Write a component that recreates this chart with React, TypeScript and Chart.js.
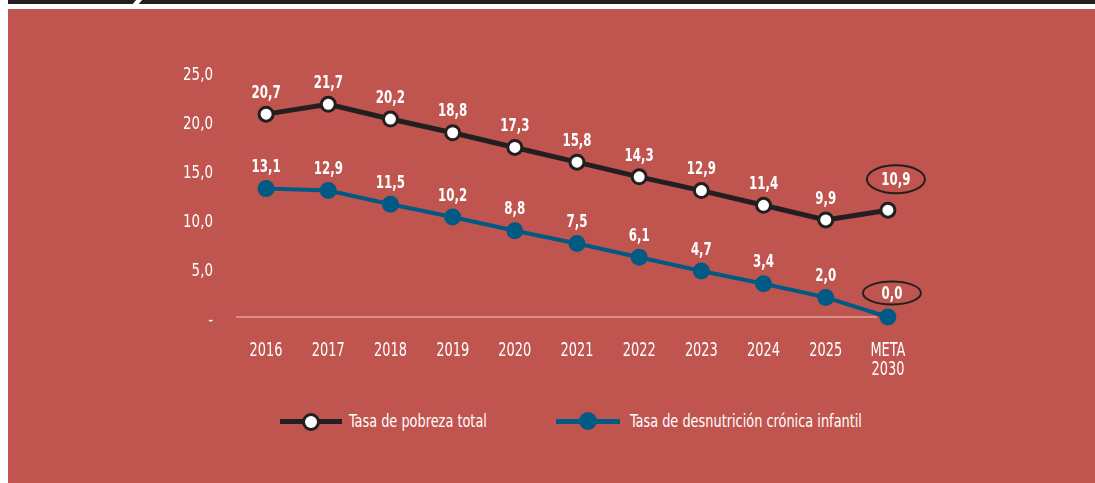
import { useEffect, useRef } from "react";
import { Chart, registerables } from "chart.js";

Chart.register(...registerables);

const categories: (string | string[])[] = [
  "2016", "2017", "2018", "2019", "2020", "2021", "2022", "2023", "2024", "2025", ["META", "2030"],
];
const pobrezaTotal = [20.7, 21.7, 20.2, 18.8, 17.3, 15.8, 14.3, 12.9, 11.4, 9.9, 10.9];
const desnutricionCronica = [13.1, 12.9, 11.5, 10.2, 8.8, 7.5, 6.1, 4.7, 3.4, 2.0, 0.0];
const yTickValues = [0, 5, 10, 15, 20, 25];
const seriesNames = ["Tasa de pobreza total", "Tasa de desnutrición crónica infantil"];

const FONT = "'DejaVu Sans Condensed', 'Liberation Sans Narrow', sans-serif";
const RED = "#c0544f";
const DARK = "#231f20";
const BLUE = "#005a84";

const fmt = (v: number) => v.toFixed(1).replace(".", ",");

// horizontal squeeze per font size to mimic a condensed typeface
const squeezeFor = (font: string) => {
  if (/(^|\s)20px/.test(font)) return 0.72;
  if (/(^|\s)18px/.test(font)) return 0.73;
  if (/(^|\s)17px/.test(font)) return 0.88;
  return 1;
};

const squeezePlugin = {
  id: "squeeze",
  beforeDraw(chart: any) {
    const ctx = chart.ctx;
    if (ctx.__origFillText) return;
    const orig = ctx.fillText;
    ctx.__origFillText = orig;
    ctx.fillText = function (text: string, x: number, y: number, mw?: number) {
      const sx = squeezeFor(this.font);
      if (sx === 1) return mw === undefined ? orig.call(this, text, x, y) : orig.call(this, text, x, y, mw);
      this.save();
      this.translate(x, y);
      this.scale(sx, 1);
      if (mw === undefined) orig.call(this, text, 0, 0);
      else orig.call(this, text, 0, 0, mw / sx);
      this.restore();
    };
  },
  afterDraw(chart: any) {
    const ctx = chart.ctx;
    if (ctx.__origFillText) {
      ctx.fillText = ctx.__origFillText;
      delete ctx.__origFillText;
    }
  },
};

const decorPlugin = {
  id: "decor",
  beforeDatasetsDraw(chart: any) {
    const { ctx, chartArea } = chart;
    const xs = chart.scales.x;
    const endX = xs.getPixelForValue(categories.length - 1) - 11;
    ctx.save();
    ctx.strokeStyle = "#dc8f8a";
    ctx.lineWidth = 2;
    ctx.beginPath();
    ctx.moveTo(chartArea.left + 1, chartArea.bottom);
    ctx.lineTo(endX, chartArea.bottom);
    ctx.stroke();
    ctx.restore();
  },
  afterDatasetsDraw(chart: any) {
    const { ctx } = chart;
    chart.data.datasets.forEach((ds: any, di: number) => {
      const meta = chart.getDatasetMeta(di);
      meta.data.forEach((pt: any, i: number) => {
        const last = i === ds.data.length - 1;
        let dx = 0;
        let dy = -22;
        if (last) {
          dx = di === 0 ? 8 : 4;
          dy = di === 0 ? -31 : -24;
        }
        const tx = pt.x + dx;
        const ty = pt.y + dy;
        ctx.save();
        ctx.fillStyle = "#ffffff";
        ctx.textAlign = "center";
        ctx.textBaseline = "middle";
        ctx.font = `bold 18px ${FONT}`;
        ctx.fillText(fmt(ds.data[i]), tx, ty + 1);
        ctx.restore();
        if (last) {
          ctx.save();
          ctx.strokeStyle = DARK;
          ctx.lineWidth = 2;
          ctx.beginPath();
          ctx.ellipse(tx, ty, 29, di === 0 ? 14 : 11.5, 0, 0, Math.PI * 2);
          ctx.stroke();
          ctx.restore();
        }
      });
    });
  },
};

export default function App() {
  const ref = useRef<HTMLCanvasElement | null>(null);

  useEffect(() => {
    if (!ref.current) return;
    const chart = new Chart(ref.current, {
      type: "line",
      data: {
        labels: categories as any,
        datasets: [
          {
            label: seriesNames[0],
            data: pobrezaTotal,
            borderColor: DARK,
            borderWidth: 5,
            pointBackgroundColor: "#ffffff",
            pointBorderColor: DARK,
            pointBorderWidth: 3,
            pointRadius: 7,
            pointHoverRadius: 7,
            tension: 0,
            clip: false as any,
          },
          {
            label: seriesNames[1],
            data: desnutricionCronica,
            borderColor: BLUE,
            borderWidth: 4,
            pointBackgroundColor: BLUE,
            pointBorderColor: BLUE,
            pointBorderWidth: 0,
            pointRadius: 8.5,
            pointHoverRadius: 8.5,
            tension: 0,
            clip: false as any,
          },
        ],
      },
      options: {
        animation: false,
        responsive: false,
        devicePixelRatio: 1,
        layout: { padding: { left: 0, right: 176, top: 63, bottom: 0 } },
        plugins: {
          legend: { display: false },
          tooltip: { enabled: false },
        },
        scales: {
          x: {
            type: "category",
            offset: true,
            grid: { display: false, drawTicks: false },
            border: { display: false },
            ticks: {
              color: "#ffffff",
              padding: 25,
              font: { family: FONT, size: 20, lineHeight: 0.92 },
              maxRotation: 0,
              autoSkip: false,
            },
            afterFit: (s: any) => {
              s.height = 82;
            },
          },
          y: {
            min: 0,
            max: 25,
            grid: { display: false, drawTicks: false },
            border: { display: false },
            afterBuildTicks: (s: any) => {
              s.ticks = yTickValues.map((v) => ({ value: v }));
            },
            ticks: {
              color: "#ffffff",
              padding: 22,
              labelOffset: 4,
              font: { family: FONT, size: 17 },
              callback: (v: any) => (Number(v) === 0 ? "-" : fmt(Number(v))),
            },
            afterFit: (s: any) => {
              s.width = 227;
            },
          },
        },
      },
      plugins: [squeezePlugin, decorPlugin],
    });
    return () => chart.destroy();
  }, []);

  const legendText: React.CSSProperties = {
    position: "absolute",
    color: "#ffffff",
    fontFamily: FONT,
    fontSize: "17.5px",
    lineHeight: "20px",
    top: 411,
    whiteSpace: "nowrap",
    transformOrigin: "left center",
    transform: "scaleX(0.82)",
  };

  return (
    <div style={{ position: "absolute", left: 0, top: 0, width: 1095, height: 483, background: "#ffffff", overflow: "hidden" }}>
      <div style={{ position: "absolute", left: 8, top: 0, width: 1087, height: 4, background: DARK }} />
      <div style={{ position: "absolute", left: 134, top: -1, width: 6, height: 7, background: "#ffffff", transform: "skewX(-40deg)" }} />
      <div style={{ position: "absolute", left: 8, top: 9, width: 1087, height: 474, background: RED }}>
        <canvas ref={ref} width={1087} height={390} style={{ position: "absolute", left: 0, top: 0, width: 1087, height: 390 }} />
      </div>
      <div style={{ position: "absolute", left: 280, top: 419, width: 62, height: 5, background: DARK }} />
      <div style={{ position: "absolute", left: 302, top: 413, width: 12, height: 12, borderRadius: "50%", background: "#ffffff", border: `3px solid ${DARK}` }} />
      <div style={{ ...legendText, left: 349 }}>{seriesNames[0]}</div>
      <div style={{ position: "absolute", left: 556, top: 419, width: 64, height: 5, background: BLUE }} />
      <div style={{ position: "absolute", left: 579, top: 412, width: 18, height: 18, borderRadius: "50%", background: BLUE }} />
      <div style={{ ...legendText, left: 630 }}>{seriesNames[1]}</div>
    </div>
  );
}
